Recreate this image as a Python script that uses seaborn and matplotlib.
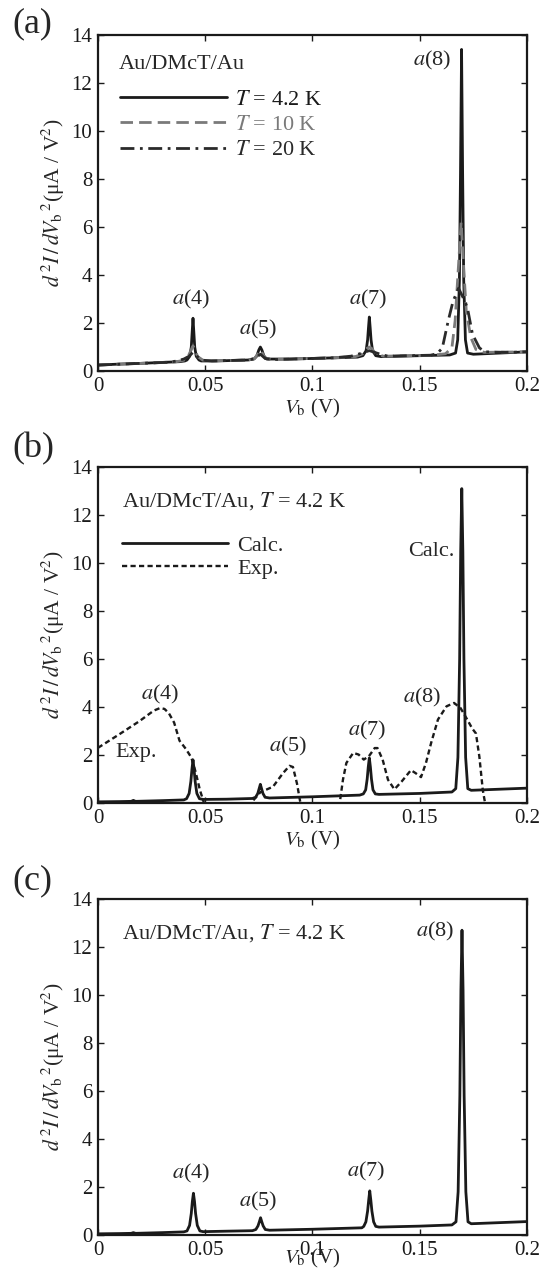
import numpy as np
import pandas as pd
import matplotlib
matplotlib.use('Agg')
import matplotlib.pyplot as plt
import seaborn as sns

# ---- panel (a): calculated d2I/dV2 at three temperatures ----
xa_4k = [0, 0.01, 0.02, 0.03, 0.038, 0.0405, 0.0415, 0.0428, 0.0435, 0.0439, 0.0443, 0.0447, 0.0451,
         0.0458, 0.0471, 0.0481, 0.055, 0.07, 0.0727, 0.0740, 0.0750, 0.0757, 0.0764, 0.0774, 0.0787,
         0.09, 0.11, 0.121, 0.1235, 0.1250, 0.1257, 0.1261, 0.1265, 0.1269, 0.1273, 0.1280, 0.1295,
         0.132, 0.15, 0.164, 0.1667, 0.1677, 0.1685, 0.1690, 0.1695, 0.1700, 0.1705, 0.1713, 0.1723,
         0.175, 0.19, 0.2]
ya_4k = [0.25, 0.29, 0.32, 0.36, 0.39, 0.42, 0.46, 0.62, 1.0, 1.6, 2.2, 1.6, 1.0,
         0.62, 0.46, 0.42, 0.42, 0.46, 0.5, 0.62, 0.88, 1.0, 0.88, 0.62, 0.5,
         0.5, 0.55, 0.58, 0.64, 0.85, 1.3, 1.8, 2.25, 1.8, 1.3, 0.85, 0.64,
         0.6, 0.64, 0.67, 0.75, 1.3, 3.8, 8.2, 13.4, 8.2, 3.8, 1.3, 0.75,
         0.7, 0.76, 0.8]
xa_10k = [0, 0.02, 0.036, 0.040, 0.042, 0.0435, 0.0443, 0.0451, 0.0465, 0.049, 0.052, 0.07, 0.073, 0.0748,
          0.0757, 0.0766, 0.078, 0.081, 0.11, 0.120, 0.1235, 0.1255, 0.1265, 0.1275, 0.1295, 0.133, 0.155,
          0.162, 0.165, 0.1665, 0.168, 0.1693, 0.1705, 0.1717, 0.1738, 0.1762, 0.18, 0.2]
ya_10k = [0.25, 0.32, 0.38, 0.45, 0.6, 0.9, 1.05, 0.9, 0.6, 0.45, 0.42, 0.46, 0.52, 0.75,
          0.87, 0.75, 0.52, 0.48, 0.55, 0.6, 0.72, 0.95, 1.0, 0.95, 0.72, 0.62, 0.65,
          0.72, 0.97, 2.1, 4.3, 6.2, 4.3, 2.5, 1.4, 0.9, 0.78, 0.8]
xa_20k = [0, 0.02, 0.034, 0.038, 0.040, 0.0425, 0.0443, 0.046, 0.049, 0.053, 0.07, 0.073, 0.0757, 0.078,
          0.082, 0.11, 0.118, 0.122, 0.1265, 0.131, 0.135, 0.155, 0.158, 0.1605, 0.1633, 0.1655, 0.1681,
          0.170, 0.1722, 0.1746, 0.1778, 0.1802, 0.19, 0.2]
ya_20k = [0.25, 0.32, 0.37, 0.45, 0.5, 0.62, 0.78, 0.62, 0.45, 0.42, 0.46, 0.52, 0.7, 0.52,
          0.48, 0.55, 0.62, 0.72, 0.85, 0.72, 0.62, 0.66, 0.72, 0.95, 2.1, 2.9, 3.45,
          3.1, 2.65, 1.53, 0.97, 0.8, 0.78, 0.8]

# ---- panel (b): calculated vs experimental ----
xb_calc = [0, 0.010, 0.0155, 0.0165, 0.0175, 0.03, 0.040, 0.0413, 0.0425, 0.0433, 0.0438, 0.0443, 0.0448,
           0.0453, 0.0461, 0.0473, 0.049, 0.06, 0.072, 0.0735, 0.0745, 0.0752, 0.0757, 0.0762, 0.0769,
           0.0779, 0.080, 0.10, 0.122, 0.1237, 0.1248, 0.1255, 0.1260, 0.1265, 0.1270, 0.1275, 0.1282,
           0.1293, 0.131, 0.15, 0.165, 0.1668, 0.1678, 0.1686, 0.1691, 0.1696, 0.1701, 0.1706, 0.1714,
           0.1724, 0.174, 0.2]
yb_calc = [0.05, 0.06, 0.07, 0.11, 0.07, 0.1, 0.13, 0.18, 0.4, 0.9, 1.4, 1.8, 1.4,
           0.9, 0.4, 0.18, 0.15, 0.16, 0.19, 0.24, 0.4, 0.62, 0.78, 0.62, 0.4,
           0.24, 0.21, 0.26, 0.33, 0.38, 0.55, 1.0, 1.5, 1.88, 1.5, 1.0, 0.55,
           0.38, 0.36, 0.4, 0.46, 0.6, 1.9, 6.0, 10.5, 13.1, 10.5, 6.0, 1.9,
           0.6, 0.53, 0.62]
xb_exp = [0, 0.0097, 0.0193, 0.026, 0.029, 0.031, 0.033, 0.0355, 0.038, 0.041, 0.0435, 0.0455, 0.0475,
          0.049, 0.0505, 0.06, 0.0705, 0.0718, 0.0757, 0.0816, 0.0863, 0.0893, 0.0909, 0.0928, 0.0941,
          0.0955, 0.105, 0.1122, 0.1128, 0.1142, 0.1158, 0.119, 0.1215, 0.1239, 0.1263, 0.1290, 0.1303,
          0.1327, 0.1352, 0.1382, 0.1416, 0.1459, 0.148, 0.1506, 0.1529, 0.1553, 0.1585, 0.1625, 0.1660,
          0.169, 0.1720, 0.1745, 0.1762, 0.1778, 0.1794, 0.1802, 0.1815]
yb_exp = [2.3, 2.85, 3.41, 3.85, 3.96, 3.92, 3.75, 3.35, 2.6, 2.25, 1.9, 1.3, 0.55,
          0.12, -0.3, -1.0, -0.3, 0.05, 0.45, 0.68, 1.25, 1.55, 1.5, 0.8, 0.14,
          -0.5, -1.0, -0.3, 0.07, 0.97, 1.67, 2.09, 2.02, 1.81, 1.95, 2.29, 2.29,
          1.81, 0.97, 0.57, 0.9, 1.37, 1.25, 1.08, 1.67, 2.5, 3.48, 4.03, 4.17,
          3.96, 3.5, 3.1, 2.9, 1.93, 0.54, 0.13, -0.5]

# ---- panel (c): calculated at 4.2 K ----
xc_calc = [0, 0.010, 0.0155, 0.0165, 0.0175, 0.03, 0.040, 0.0415, 0.0427, 0.0435, 0.0440, 0.0445, 0.0450,
           0.0455, 0.0463, 0.0475, 0.049, 0.06, 0.072, 0.0736, 0.0746, 0.0753, 0.0758, 0.0763, 0.0770,
           0.0780, 0.080, 0.10, 0.123, 0.1239, 0.1249, 0.1257, 0.1262, 0.1267, 0.1272, 0.1277, 0.1285,
           0.1295, 0.131, 0.15, 0.165, 0.1669, 0.1679, 0.1687, 0.1692, 0.1697, 0.1702, 0.1707, 0.1715,
           0.1725, 0.174, 0.2]
yc_calc = [0.05, 0.06, 0.07, 0.1, 0.07, 0.1, 0.13, 0.17, 0.4, 0.9, 1.4, 1.74, 1.4,
           0.9, 0.4, 0.17, 0.14, 0.16, 0.18, 0.23, 0.38, 0.57, 0.72, 0.57, 0.38,
           0.23, 0.2, 0.24, 0.3, 0.36, 0.55, 1.0, 1.45, 1.84, 1.45, 1.0, 0.55,
           0.36, 0.33, 0.37, 0.42, 0.55, 1.8, 5.8, 10.2, 12.7, 10.2, 5.8, 1.8,
           0.55, 0.47, 0.56]

xtick_vals = [0, 0.05, 0.1, 0.15, 0.2]
xtick_labels = ['0', '0.05', '0.1', '0.15', '0.2']
ytick_vals = [0, 2, 4, 6, 8, 10, 12, 14]

sns.set_theme(style='ticks')
plt.rcParams['font.family'] = ['Liberation Serif', 'DejaVu Serif']
plt.rcParams['mathtext.fontset'] = 'stix'
plt.rcParams['axes.linewidth'] = 1.5

TXT = 16
TICK = 15
fig = plt.figure(figsize=(5.41, 12.83), dpi=100)
axa = fig.add_axes([0.1811, 0.7108, 0.793, 0.2619])
axb = fig.add_axes([0.1811, 0.3741, 0.793, 0.2619])
axc = fig.add_axes([0.1811, 0.0374, 0.793, 0.2619])

def line(ax, xs, ys, color, ls='-', lw=2.0):
    df = pd.DataFrame({'V': xs, 'd2I': ys})
    sns.lineplot(data=df, x='V', y='d2I', ax=ax, color=color, lw=lw, linestyle=ls,
                 estimator=None, sort=False)
    return ax.lines[-1]

def style(ax, xlabelpad):
    ax.set_xlim(0, 0.2)
    ax.set_ylim(0, 14)
    ax.set_xticks(xtick_vals)
    ax.set_xticklabels(xtick_labels)
    ax.set_yticks(ytick_vals)
    ax.tick_params(direction='in', top=True, right=True, length=4, width=1,
                   labelsize=TICK, pad=4, colors='k')
    for s in ax.spines.values():
        s.set_color('k')
        s.set_linewidth(1.6)
    ax.set_xlabel(r'$V_{\mathrm{b}}$ (V)', fontsize=TICK, labelpad=xlabelpad)
    ax.set_ylabel(r'$d^{\,2}I\,/\,dV_{\mathrm{b}}{}^{\,2}$(μA / V$^{2}$)', fontsize=15.5, labelpad=3)

# (a)
l1 = line(axa, xa_4k, ya_4k, 'k')
l2 = line(axa, xa_10k, ya_10k, '#7a7a7a', ls=(0, (4.5, 2.2)))
l3 = line(axa, xa_20k, ya_20k, '#2a2a2a', ls=(0, (5, 2, 1, 2)))
style(axa, 1)
axa.text(0.0097, 12.77, 'Au/DMcT/Au', fontsize=TXT, va='center', ha='left')
axa.legend([l1, l2, l3], [r'$T$ = 4.2 K', r'$T$ = 10 K', r'$T$ = 20 K'], loc='center left',
           bbox_to_anchor=(0.051, 0.733), frameon=False, fontsize=TXT, handlelength=4.8,
           handletextpad=0.4, labelspacing=0.22, borderpad=0, borderaxespad=0, labelcolor='linecolor')
for txt, x, y in [('$a$(4)', 0.0435, 3.0), ('$a$(5)', 0.0747, 1.74),
                  ('$a$(7)', 0.1258, 3.0), ('$a$(8)', 0.1556, 12.95)]:
    axa.text(x, y, txt, fontsize=TXT, ha='center', va='center')

# (b)
m1 = line(axb, xb_calc, yb_calc, 'k')
m2 = line(axb, xb_exp, yb_exp, 'k', ls=(0, (2.2, 1.4)), lw=1.7)
style(axb, 1)
axb.text(0.011, 12.59, r'Au/DMcT/Au, $T$ = 4.2 K', fontsize=TXT, va='center', ha='left')
axb.legend([m1, m2], ['Calc.', 'Exp.'], loc='center left',
           bbox_to_anchor=(0.055, 0.732), frameon=False, fontsize=TXT, handlelength=4.8,
           handletextpad=0.4, labelspacing=0.1, borderpad=0, borderaxespad=0)
for txt, x, y in [('$a$(4)', 0.029, 4.52), ('Exp.', 0.0177, 2.09), ('$a$(5)', 0.0887, 2.36),
                  ('$a$(7)', 0.1255, 3.03), ('$a$(8)', 0.1513, 4.38), ('Calc.', 0.1556, 10.5)]:
    axb.text(x, y, txt, fontsize=TXT, ha='center', va='center')

# (c)
line(axc, xc_calc, yc_calc, 'k')
style(axc, -9)
axc.text(0.0113, 12.59, r'Au/DMcT/Au, $T$ = 4.2 K', fontsize=TXT, va='center', ha='left')
for txt, x, y in [('$a$(4)', 0.0432, 2.57), ('$a$(5)', 0.0745, 1.39),
                  ('$a$(7)', 0.125, 2.64), ('$a$(8)', 0.1573, 12.66)]:
    axc.text(x, y, txt, fontsize=TXT, ha='center', va='center')

for lab, y in [('(a)', 0.9945), ('(b)', 0.6632), ('(c)', 0.3265)]:
    fig.text(0.022, y, lab, fontsize=26, ha='left', va='top')

fig.savefig('out.png', dpi=100)
